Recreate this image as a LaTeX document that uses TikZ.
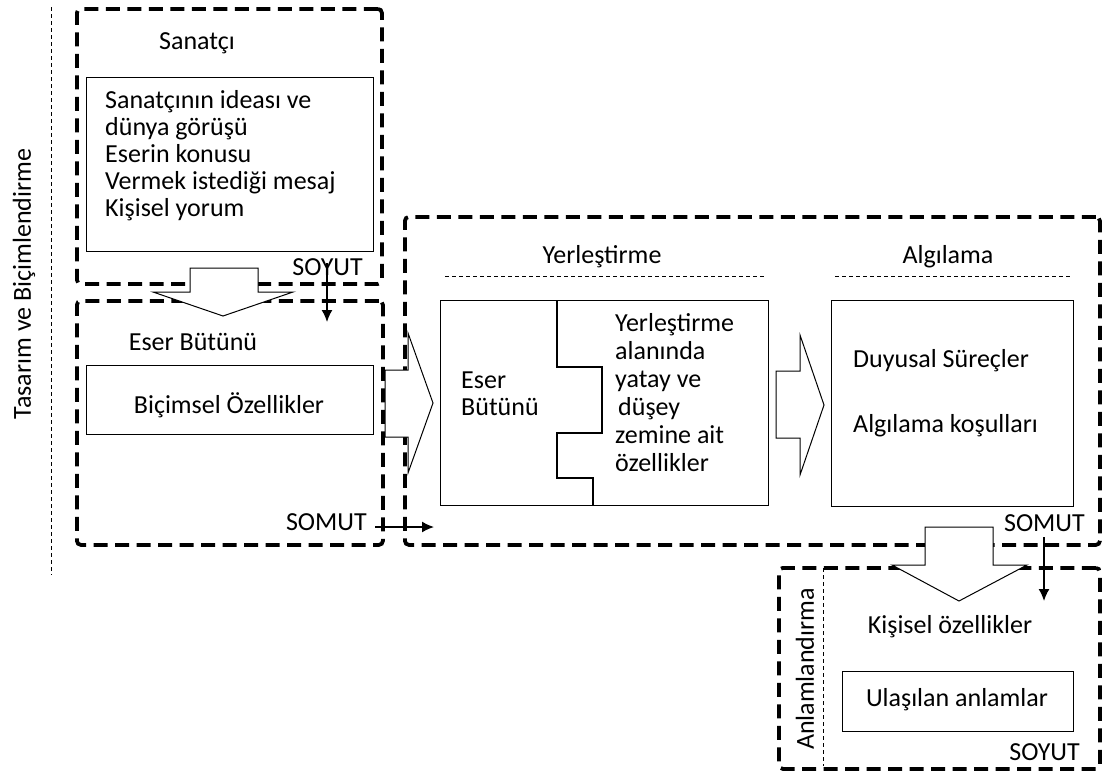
\documentclass[tikz,border=0pt]{standalone}
\usepackage{fontspec}
\setmainfont{Carlito}
\usetikzlibrary{arrows.meta}
\begin{document}
\begin{tikzpicture}[x=1pt,y=-1pt,
  bigbox/.style={draw, line width=3.8pt, dash pattern=on 14pt off 7.5pt, rounded corners=4pt, inner sep=0pt, anchor=north west},
  innerbox/.style={draw, line width=1.3pt, inner sep=0pt, anchor=north west},
  dotline/.style={line width=0.8pt, dash pattern=on 4pt off 3pt},
  blockarrow/.style={draw, fill=white, line width=1pt, line join=miter},
  thinarrow/.style={line width=1.5pt, -{Latex[length=12pt,width=11pt]}},
  txt/.style={inner sep=0pt, font=\fontsize{26}{27}\selectfont},
  lefttxt/.style={txt, align=left, anchor=west}
]
\useasboundingbox (0,0) rectangle (1102,774);
% outer dashed containers
\node[bigbox, minimum width=305pt, minimum height=275pt] (b1) at (75,7) {};
\node[bigbox, minimum width=306pt, minimum height=244pt] (b2) at (75,299) {};
\node[bigbox, minimum width=695pt, minimum height=328pt] (b3) at (403,215) {};
\node[bigbox, minimum width=321pt, minimum height=201pt] (b4) at (777,566) {};
% inner boxes
\node[innerbox, minimum width=287pt, minimum height=174pt] (i1) at (86,77) {};
\node[innerbox, minimum width=287pt, minimum height=69pt] (i2) at (86,365) {};
\node[innerbox, minimum width=328pt, minimum height=205pt] (i3) at (440,300) {};
\node[innerbox, minimum width=242pt, minimum height=206pt] (i4) at (831,300) {};
\node[innerbox, minimum width=231pt, minimum height=60pt] (i5) at (842,671) {};
% puzzle line
\draw[line width=1.3pt] (557,300) -- (557,367) -- (602,367) -- (602,433) -- (557,433) -- (557,478) -- (593,478) -- (593,505);
% dotted lines
\draw[dotline] (51,7) -- (51,575);
\draw[dotline] (445,276) -- (765,276);
\draw[dotline] (835,276) -- (1070,276);
\draw[dotline] (823,568) -- (823,766);
% block arrows
\draw[blockarrow] (190,268) -- (258,268) -- (258,292) -- (293,292) -- (223,316) -- (153,292) -- (190,292) -- cycle;
\draw[blockarrow] (385,370) -- (408,370) -- (408,333) -- (433,403) -- (408,473) -- (408,437) -- (385,437) -- cycle;
\draw[blockarrow] (776,371) -- (800,371) -- (800,335) -- (824,405) -- (800,475) -- (800,438) -- (776,438) -- cycle;
\draw[blockarrow] (925,527) -- (993,527) -- (993,565) -- (1027,565) -- (959,601) -- (892,565) -- (925,565) -- cycle;
% texts
\node[txt] (tasarim) at (24,284) [rotate=90] {Tasarım ve Biçimlendirme};
\node[txt] (sanatci) at (197,43) {Sanatçı};
\node[lefttxt] (ideas) at (105,156) {Sanatçının ideası ve\\dünya görüşü\\Eserin konusu\\Vermek istediği mesaj\\Kişisel yorum};
\node[txt, anchor=east] (soyut1) at (363,267) {SOYUT};
\node[txt] (eser1) at (193,342) {Eser Bütünü};
\node[txt] (bicim) at (229,405) {Biçimsel Özellikler};
\node[txt, anchor=east] (somut1) at (367,522) {SOMUT};
\node[txt] (yerl) at (602,257) {Yerleştirme};
\node[lefttxt] (eser2) at (461,394) {Eser\\Bütünü};
\node[lefttxt, font=\fontsize{26}{28}\selectfont] (alan) at (615,393) {Yerleştirme\\alanında\\yatay ve\\\hspace*{3pt}düşey\\zemine ait\\özellikler};
\node[txt] (algi) at (948,257) {Algılama};
\node[lefttxt] (duyu) at (853,361) {Duyusal Süreçler};
\node[lefttxt] (kosul) at (853,426) {Algılama koşulları};
\node[txt, anchor=east] (somut2) at (1085,523) {SOMUT};
\node[txt] (anlam) at (805,669) [rotate=90] {Anlamlandırma};
\node[txt] (kisisel) at (950,627) {Kişisel özellikler};
\node[txt] (ulas) at (957,700) {Ulaşılan anlamlar};
\node[txt, anchor=east] (soyut2) at (1080,752) {SOYUT};
% thin arrows
\coordinate (a1s) at (327,263);
\coordinate (a1e) at (327,322);
\coordinate (a2s) at (375,527);
\coordinate (a2e) at (434,527);
\coordinate (a3s) at (1044,537);
\coordinate (a3e) at (1044,601);
\draw[thinarrow] (a1s) -- (a1e);
\draw[thinarrow] (a2s) -- (a2e);
\draw[thinarrow] (a3s) -- (a3e);
\end{tikzpicture}
\end{document}
